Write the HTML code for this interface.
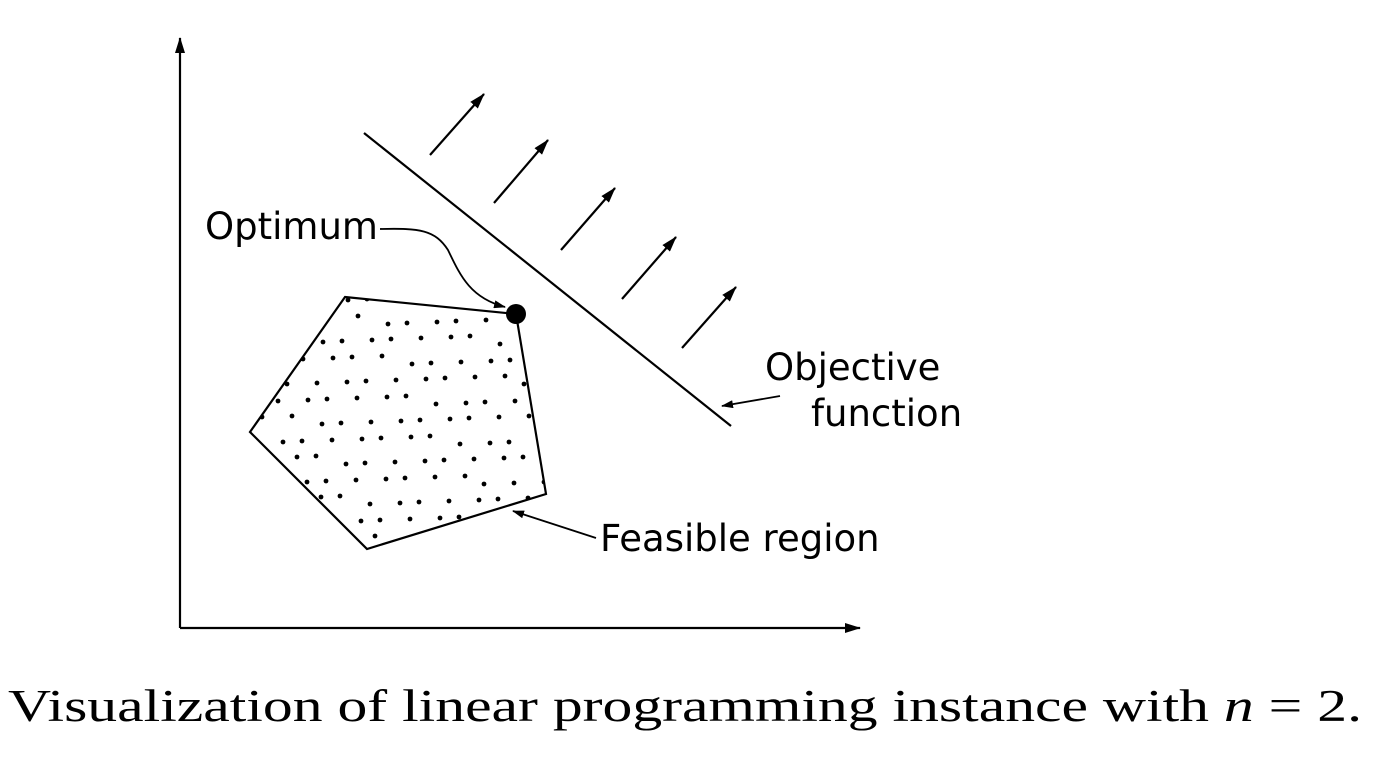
<!DOCTYPE html>
<html><head><meta charset="utf-8"><style>
html,body{margin:0;padding:0;background:#fff;width:1374px;height:774px;overflow:hidden}
svg{display:block}
.lbl{font-family:"DejaVu Sans","Liberation Sans",sans-serif;font-size:37px;fill:#000}
.cap{font-family:"Liberation Serif","DejaVu Serif",serif;font-size:45px;fill:#000}
</style></head><body>
<svg width="1374" height="774" viewBox="0 0 1374 774">
<defs>
<marker id="ah" markerWidth="16" markerHeight="10" refX="15" refY="5" orient="auto" markerUnits="userSpaceOnUse"><path d="M0,0 L16,5 L0,10 Z" fill="#000"/></marker>
<marker id="ahs" markerWidth="12" markerHeight="8" refX="11" refY="4" orient="auto" markerUnits="userSpaceOnUse"><path d="M0,0 L12,4 L0,8 Z" fill="#000"/></marker>
<clipPath id="pc"><polygon points="345,297 516,314 546,494 367,549 250,432"/></clipPath>
</defs>
<line x1="180" y1="628" x2="180" y2="38" stroke="#000" stroke-width="2.2" marker-end="url(#ah)"/>
<line x1="180" y1="628" x2="860" y2="628" stroke="#000" stroke-width="2.2" marker-end="url(#ah)"/>
<g id="dots" clip-path="url(#pc)"></g>
<polygon points="345,297 516,314 546,494 367,549 250,432" fill="none" stroke="#000" stroke-width="2.2"/>
<circle cx="516" cy="314" r="10" fill="#000"/>
<line x1="364" y1="133" x2="731" y2="426" stroke="#000" stroke-width="2.2"/>
<g stroke="#000" stroke-width="2.2">
<line x1="430" y1="155" x2="484" y2="94" marker-end="url(#ah)"/>
<line x1="494" y1="203" x2="548" y2="140" marker-end="url(#ah)"/>
<line x1="561" y1="250" x2="615" y2="188" marker-end="url(#ah)"/>
<line x1="622" y1="299" x2="676" y2="237" marker-end="url(#ah)"/>
<line x1="682" y1="348" x2="736" y2="287" marker-end="url(#ah)"/>
</g>
<text class="lbl" x="205" y="239">Optimum</text>
<path d="M380,229 C420,228 435,230 448,250 C460,275 470,298 505,307" fill="none" stroke="#000" stroke-width="1.8" marker-end="url(#ahs)"/>
<text class="lbl" x="765" y="380">Objective</text>
<text class="lbl" x="811" y="426">function</text>
<line x1="780" y1="396" x2="722" y2="406" stroke="#000" stroke-width="1.8" marker-end="url(#ahs)"/>
<text class="lbl" x="600" y="551">Feasible region</text>
<line x1="596" y1="538" x2="513" y2="511" stroke="#000" stroke-width="1.8" marker-end="url(#ahs)"/>
<text class="cap" x="8" y="721" textLength="1354" lengthAdjust="spacingAndGlyphs">Visualization of linear programming instance with <tspan font-style="italic">n</tspan> = 2.</text>
</svg>
<script>
var g=document.getElementById('dots');
var k=0;
for(var y=300;y<560;y+=20){
  var row=Math.round((y-300)/20);
  for(var x=240;x<560;x+=26){
    k++;
    var jx=((k*37)%11)-5, jy=((k*53)%9)-4;
    var c=document.createElementNS('http://www.w3.org/2000/svg','circle');
    c.setAttribute('cx',x+(row%2)*13+jx);
    c.setAttribute('cy',y+jy);
    c.setAttribute('r',2.4);
    c.setAttribute('fill','#000');
    
    
    g.appendChild(c);
  }
}
</script>
</body></html>
